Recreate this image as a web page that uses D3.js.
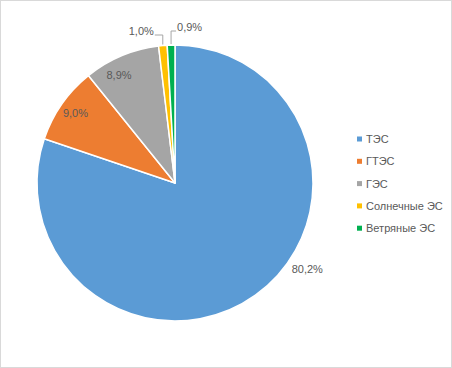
<!DOCTYPE html>
<html>
<head>
<meta charset="utf-8">
<script src="https://cdn.jsdelivr.net/npm/d3@7"></script>
<style>
  html, body { margin: 0; padding: 0; background: #fff; }
  svg { display: block; }
</style>
</head>
<body>
<script>
// ---- data ----
const categories = ["ТЭС", "ГТЭС", "ГЭС", "Солнечные ЭС", "Ветряные ЭС"];
const values = [80.2, 9.0, 8.9, 1.0, 0.9];
const valueLabels = ["80,2%", "9,0%", "8,9%", "1,0%", "0,9%"];
const colors = ["#5B9BD5", "#ED7D31", "#A5A5A5", "#FFC000", "#00B050"];

// ---- layout ----
const W = 452, H = 368;
const cx = 175, cy = 183, R = 138;
const font = "'Liberation Sans', Arial, sans-serif";
const textColor = "#595959";

const svg = d3.select("body").append("svg").attr("width", W).attr("height", H);

svg.append("rect")
  .attr("x", 0.5).attr("y", 0.5).attr("width", W - 1).attr("height", H - 1)
  .attr("fill", "#fff").attr("stroke", "#D9D9D9").attr("stroke-width", 1);

const pie = d3.pie().sort(null).value(d => d)(values);
const arc = d3.arc().innerRadius(0).outerRadius(R);
const color = d3.scaleOrdinal().domain(categories).range(colors);

const g = svg.append("g").attr("transform", `translate(${cx},${cy})`);

g.selectAll("path.slice").data(pie).join("path")
  .attr("class", "slice")
  .attr("d", arc)
  .attr("fill", (d, i) => color(categories[i]))
  .attr("stroke", "#fff")
  .attr("stroke-width", 1.5)
  .attr("stroke-linejoin", "round");

// label placement (layout rules, not data)
function polar(angle, r) { return [Math.sin(angle) * r, -Math.cos(angle) * r]; }
const mid = d => (d.startAngle + d.endAngle) / 2;

pie.forEach((d, i) => {
  const a = mid(d);
  const lab = g.append("text")
    .attr("font-family", font).attr("font-size", 11).attr("fill", textColor)
    .attr("dominant-baseline", "central")
    .text(valueLabels[i]);
  if (i === 0) {
    // best-fit outside label for the big slice
    const p = polar(a - 0.37, R + 20);
    lab.attr("x", p[0]).attr("y", p[1]).attr("text-anchor", "middle");
  } else if (i === 1 || i === 2) {
    const p = polar(a - (i === 2 ? 0.08 : 0), R * 0.88);
    lab.attr("x", p[0]).attr("y", p[1]).attr("text-anchor", "middle");
  } else {
    // small slices: labels above with elbow leader lines
    const p = polar(a, R + 1);
    const left = i === 3;
    const ly = left ? -R - 13 : -R - 17;
    const lx = left ? p[0] - 9 : p[0] + 6;
    lab.attr("x", lx).attr("y", ly - 1).attr("text-anchor", left ? "end" : "start");
    g.append("polyline")
      .attr("points", [[p[0], p[1]], [p[0], ly + 3], [left ? lx + 1 : lx - 1, ly + 3]].map(q => q.join(",")).join(" "))
      .attr("fill", "none").attr("stroke", "#A6A6A6").attr("stroke-width", 1);
  }
});

// legend
const legend = svg.append("g").attr("transform", "translate(357,139)");
const item = legend.selectAll("g").data(categories).join("g")
  .attr("transform", (d, i) => `translate(0,${i * 22.3})`);
item.append("rect").attr("x", 0).attr("y", -2.5).attr("width", 5).attr("height", 5)
  .attr("fill", d => color(d));
item.append("text").attr("x", 9).attr("y", 0).attr("dominant-baseline", "central")
  .attr("font-family", font).attr("font-size", 11).attr("fill", textColor)
  .text(d => d);
</script>
</body>
</html>
